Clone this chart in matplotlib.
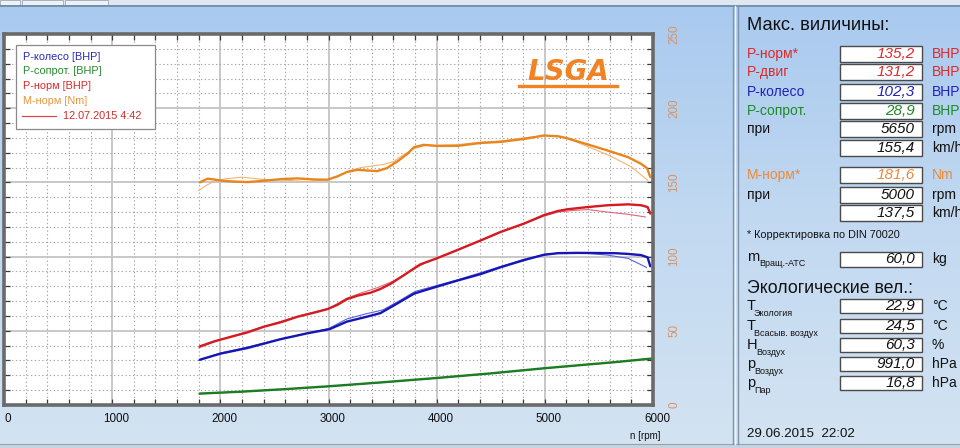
import numpy as np
import matplotlib
matplotlib.use("Agg")
import matplotlib.pyplot as plt
from matplotlib.patches import Rectangle
from matplotlib.ticker import MultipleLocator
from matplotlib.colors import LinearSegmentedColormap
import matplotlib.transforms as mtransforms

plt.rcParams["font.family"] = ["Liberation Sans", "DejaVu Sans"]

W, H = 960, 448

# ── Data ──────────────────────────────────────────────────────────────────────
# M-norm [Nm], thick = current run, thin = compare run
RPM_M = [1810, 1880, 1940, 2000, 2090, 2250, 2400, 2560, 2710, 2860, 2990, 3080, 3170,
         3270, 3360, 3450, 3540, 3640, 3730, 3790, 3880, 4000, 4190, 4410, 4590, 4810,
         4990, 5120, 5210, 5400, 5580, 5770, 5890, 5945, 5975]
M_NORM = [150.0, 152.5, 152.0, 151.3, 150.7, 150.2, 151.1, 152.2, 152.7, 152.0, 151.8,
          154.0, 157.0, 158.5, 158.0, 157.6, 159.6, 164.3, 169.3, 173.7, 175.3, 174.6,
          174.6, 176.6, 177.3, 179.3, 181.6, 181.1, 179.7, 175.5, 171.5, 167.0, 162.5,
          159.6, 153.6]
RPM_M_OLD = [1800, 1870, 1950, 2050, 2200, 2400, 2600, 2800, 3000, 3100, 3200, 3300, 3400,
             3500, 3600, 3700, 3800, 3900, 4000, 4200, 4400, 4600, 4800, 5000, 5150, 5300,
             5400, 5600, 5800, 5950]
M_NORM_OLD = [144.5, 148.0, 151.0, 152.5, 153.5, 152.0, 151.5, 150.5, 152.0, 154.5, 158.0,
              160.0, 161.0, 162.0, 164.0, 169.0, 173.0, 175.0, 175.0, 175.5, 177.0, 178.0,
              180.0, 181.5, 181.0, 177.0, 174.0, 168.0, 160.5, 151.5]

# P-norm [BHP]
RPM_P = [1810, 1940, 2090, 2250, 2400, 2560, 2710, 2860, 2990, 3080, 3170, 3270, 3390,
         3480, 3570, 3700, 3790, 3850, 4000, 4190, 4410, 4590, 4810, 4990, 5120, 5210,
         5400, 5580, 5770, 5890, 5950, 5975]
P_NORM = [39.5, 42.8, 45.8, 48.9, 52.7, 55.8, 59.4, 62.1, 64.6, 67.4, 71.3, 73.7, 75.7,
          78.2, 81.5, 87.6, 92.0, 94.8, 98.8, 104.4, 111.0, 116.6, 122.3, 127.9, 130.7,
          131.9, 133.4, 134.6, 135.2, 134.6, 133.4, 129.0]
RPM_P_OLD = [1800, 2000, 2250, 2500, 2750, 3000, 3170, 3300, 3450, 3600, 3750, 3900, 4100,
             4400, 4600, 4800, 5000, 5120, 5250, 5400, 5580, 5770, 5930]
P_NORM_OLD = [38.5, 44.0, 49.5, 55.0, 60.5, 65.0, 72.0, 75.5, 79.0, 83.5, 90.0, 96.0, 101.5,
              110.5, 116.5, 122.0, 127.5, 130.0, 131.0, 131.7, 130.0, 128.5, 126.7]

# P-wheel [BHP]
RPM_W = [1810, 2000, 2250, 2560, 2810, 3010, 3170, 3360, 3480, 3640, 3790, 3850, 4000,
         4190, 4410, 4590, 4810, 4990, 5120, 5300, 5500, 5650, 5770, 5890, 5950, 5975]
P_WHEEL = [30.5, 34.6, 38.4, 44.4, 48.4, 51.1, 56.2, 59.6, 61.9, 68.6, 75.0, 76.4, 79.7,
           83.8, 88.3, 92.8, 97.7, 101.2, 102.3, 102.5, 102.4, 102.3, 101.8, 101.0, 99.5, 93.5]
RPM_W_OLD = [1800, 2000, 2250, 2500, 2750, 3000, 3170, 3350, 3500, 3650, 3800, 4000, 4200,
             4400, 4600, 4800, 5000, 5150, 5350, 5580, 5770, 5940]
P_WHEEL_OLD = [30.0, 35.0, 39.0, 43.5, 47.5, 51.5, 58.0, 61.5, 64.0, 70.0, 76.5, 80.5, 84.5,
               89.0, 93.5, 98.0, 101.5, 102.5, 102.5, 101.0, 98.8, 92.7]

# P-drag [BHP]
RPM_D = [1810, 2200, 2600, 3000, 3500, 4000, 4500, 5000, 5650, 5990]
P_DRAG = [7.7, 9.0, 10.7, 12.6, 15.3, 18.2, 21.3, 24.8, 28.9, 31.3]
RPM_D_OLD = [1800, 2200, 2600, 3000, 3500, 4000, 4500, 5000, 5650, 5950]
P_DRAG_OLD = [7.5, 8.9, 10.6, 12.5, 15.2, 18.1, 21.2, 24.7, 28.8, 31.0]

X_TICKS = [0, 1000, 2000, 3000, 4000, 5000, 6000]
Y_TICKS = [0, 50, 100, 150, 200, 250]

# right panel: max values
MAX_LABELS = ["P-норм*", "P-двиг", "P-колесо", "P-сопрот.", "при", "", "M-норм*", "при", ""]
MAX_VALUES = ["135,2", "131,2", "102,3", "28,9", "5650", "155,4", "181,6", "5000", "137,5"]
MAX_UNITS = ["BHP", "BHP", "BHP", "BHP", "rpm", "km/h", "Nm", "rpm", "km/h"]
MAX_KIND = ["red", "red", "blue", "green", "black", "black", "orange", "black", "black"]

ENV_MAIN = ["T", "T", "H", "p", "p"]
ENV_SUB = ["Экология", "Всасыв. воздух", "Воздух", "Воздух", "Пар"]
ENV_VALUES = ["22,9", "24,5", "60,3", "991,0", "16,8"]
ENV_UNITS = ["°C", "°C", "%", "hPa", "hPa"]

# ── Style ─────────────────────────────────────────────────────────────────────
COL = {
    "blue": "#1616b4", "red": "#d41a22", "green": "#1c7c22", "orange": "#e8861e",
    "black": "#111111",
}
COL_THIN = {
    "blue": "#5563dc", "red": "#e2687c", "green": "#4da455", "orange": "#f2b574",
}
LEG_COL = {
    "blue": "#2a2ab4", "red": "#d42a2a", "green": "#238a2c", "orange": "#e8953a",
}
PANEL_COL = {
    "blue": "#2222b8", "red": "#dc2a2a", "green": "#1f8a26", "orange": "#ec8a3a",
    "black": "#111111",
}


def fx(x):
    return x / W


def fy(y):
    return 1 - y / H


def box(fig, x, y, w, h):
    fig.add_artist(Rectangle((fx(x), fy(y + h)), w / W, h / H, transform=fig.transFigure,
                             facecolor="white", edgecolor="#4a4a4a", linewidth=1.0, zorder=4))


def draw_background(fig):
    bg = fig.add_axes([0, 0, 1, 1], zorder=-10)
    grad = np.linspace(0, 1, 256).reshape(-1, 1)
    cmap = LinearSegmentedColormap.from_list("bg", ["#a8c9ef", "#c2d9f1", "#d3e3f2"])
    bg.imshow(grad, aspect="auto", cmap=cmap, extent=[0, 1, 0, 1], origin="upper")
    bg.set_xlim(0, 1)
    bg.set_ylim(0, 1)
    bg.axis("off")
    # top strip + tabs
    bg.add_patch(Rectangle((0, fy(5)), 1, 5 / H, facecolor="#dfe7f0", edgecolor="none"))
    for x0, x1 in [(0, 20), (22, 63), (65, 108)]:
        bg.add_patch(Rectangle((fx(x0), fy(5)), (x1 - x0) / W, 5 / H,
                               facecolor="#eef2f6", edgecolor="#9aa8b8", linewidth=0.6))
    bg.axhline(fy(6), color="#6f86a2", linewidth=1.2)
    # bottom strip
    bg.add_patch(Rectangle((0, 0), 1, 4 / H, facecolor="#c9d3dd", edgecolor="none"))
    bg.axhline(fy(444), color="#93a3b5", linewidth=0.8)
    # panel separator
    bg.axvline(fx(733), ymin=fy(444), ymax=fy(6), color="#8193a8", linewidth=1.0)
    bg.axvline(fx(735), ymin=fy(444), ymax=fy(6), color="#eef4fa", linewidth=1.0)
    bg.axvline(fx(738), ymin=fy(444), ymax=fy(6), color="#8193a8", linewidth=1.0)


def draw_chart(fig):
    ax = fig.add_axes([fx(4), fy(405), 649 / W, 371 / H])
    ax.set_facecolor("white")
    ax.set_xlim(0, 6000)
    ax.set_ylim(0, 250)

    ax.xaxis.set_major_locator(MultipleLocator(1000))
    ax.xaxis.set_minor_locator(MultipleLocator(200))
    ax.yaxis.set_major_locator(MultipleLocator(50))
    ax.yaxis.set_minor_locator(MultipleLocator(10))
    ax.set_xticks(X_TICKS)
    ax.set_xticklabels([str(t) for t in X_TICKS])
    ax.set_yticks(Y_TICKS)
    ax.set_yticklabels([str(t) for t in Y_TICKS])

    ax.grid(which="major", color="#c4c4c4", linewidth=1.3, linestyle="-")
    ax.grid(which="minor", color="#a6a6a6", linewidth=0.8, linestyle=(0, (1.2, 2.2)))
    ax.set_axisbelow(True)

    ax.tick_params(which="both", direction="in", top=True, bottom=True, left=True, right=True,
                   length=4, width=0.9, color="#3a3a3a")
    ax.tick_params(axis="x", labelsize=8.4, pad=6, labelcolor="#111111")
    ax.tick_params(axis="y", labelleft=False, labelright=True, labelrotation=90,
                   labelsize=8.4, pad=11, labelcolor="#d6956a")
    for lbl in ax.get_yticklabels():
        lbl.set_verticalalignment("center")
    shift = mtransforms.ScaledTranslation(4 / 100, 0, fig.dpi_scale_trans)
    for lbl in ax.get_xticklabels():
        lbl.set_transform(lbl.get_transform() + shift)

    for sp in ax.spines.values():
        sp.set_color("#6a6a6a")
        sp.set_linewidth(2.6)

    # compare run (thin), then current run (thick)
    ax.plot(RPM_D_OLD, P_DRAG_OLD, color=COL_THIN["green"], linewidth=0.8)
    ax.plot(RPM_W_OLD, P_WHEEL_OLD, color=COL_THIN["blue"], linewidth=0.8)
    ax.plot(RPM_P_OLD, P_NORM_OLD, color=COL_THIN["red"], linewidth=0.8)
    ax.plot(RPM_M_OLD, M_NORM_OLD, color=COL_THIN["orange"], linewidth=0.8)

    ax.plot(RPM_D, P_DRAG, color=COL["green"], linewidth=1.7, solid_capstyle="round")
    ax.plot(RPM_W, P_WHEEL, color=COL["blue"], linewidth=1.7, solid_capstyle="round")
    ax.plot(RPM_P, P_NORM, color=COL["red"], linewidth=1.7, solid_capstyle="round")
    ax.plot(RPM_M, M_NORM, color=COL["orange"], linewidth=1.7, solid_capstyle="round")

    # legend box
    fig.add_artist(Rectangle((fx(16), fy(129)), 139 / W, 84 / H, transform=fig.transFigure,
                             facecolor="white", edgecolor="#8a8a8a", linewidth=0.9, zorder=5))
    leg = [("P-колесо [BHP]", "blue"), ("P-сопрот. [BHP]", "green"),
           ("P-норм [BHP]", "red"), ("M-норм [Nm]", "orange")]
    for i, (txt, c) in enumerate(leg):
        fig.text(fx(23), fy(57 + i * 14.5), txt, color=LEG_COL[c], fontsize=7.8,
                 va="center", ha="left", zorder=6)
    fig.add_artist(plt.Line2D([fx(22), fx(56)], [fy(116), fy(116)], color="#d84a55",
                              linewidth=0.9, transform=fig.transFigure, zorder=6))
    fig.text(fx(63), fy(116), "12.07.2015 4:42", color=LEG_COL["red"], fontsize=7.8,
             va="center", ha="left", zorder=6)

    # logo
    fig.text(fx(568), fy(72), "LSGA", color="#f08424", fontsize=20, fontweight="bold",
             fontstyle="italic", family=["DejaVu Sans"], ha="center", va="center", zorder=6)
    fig.add_artist(plt.Line2D([fx(519), fx(617)], [fy(86), fy(86)], color="#f08424",
                              linewidth=2.4, transform=fig.transFigure, zorder=6))

    fig.text(fx(645), fy(436), "n [rpm]", fontsize=7, ha="center", va="center",
             color="#111111")


def draw_panel(fig):
    fig.text(fx(747), fy(25), "Макс. виличины:", fontsize=13.2, va="center", ha="left",
             color="#111111")
    rows_y = [54, 72, 92, 111, 129, 148, 175, 195, 213]
    for y, lab, val, unit, kind in zip(rows_y, MAX_LABELS, MAX_VALUES, MAX_UNITS, MAX_KIND):
        c = PANEL_COL[kind]
        if lab:
            fig.text(fx(747), fy(y), lab, fontsize=10, color=c, va="center", ha="left")
        box(fig, 840, y - 8, 82, 16)
        fig.text(fx(915), fy(y), val, fontsize=11, color=c, va="center", ha="right",
                 fontstyle="italic", zorder=6)
        fig.text(fx(932), fy(y), unit, fontsize=10, color=c, va="center", ha="left")

    fig.text(fx(747), fy(235), "* Корректировка по DIN 70020", fontsize=7.8, va="center",
             ha="left", color="#111111")
    fig.text(fx(747), fy(257), "m", fontsize=10.5, va="center", ha="left", color="#111111")
    fig.text(fx(759), fy(263), "Вращ.-АТС", fontsize=6.5, va="center", ha="left",
             color="#111111")
    box(fig, 840, 252, 82, 15)
    fig.text(fx(915), fy(259), "60,0", fontsize=11, va="center", ha="right",
             fontstyle="italic", color="#111111", zorder=6)
    fig.text(fx(932), fy(259), "kg", fontsize=10, va="center", ha="left", color="#111111")

    fig.text(fx(747), fy(288), "Экологические вел.:", fontsize=12.8, va="center",
             ha="left", color="#111111")
    env_y = [306, 326, 345, 364, 383]
    sub_x = [754, 754, 756, 754, 754]
    for y, sx, m, s, val, unit in zip(env_y, sub_x, ENV_MAIN, ENV_SUB, ENV_VALUES, ENV_UNITS):
        fig.text(fx(747), fy(y), m, fontsize=10.5, va="center", ha="left", color="#111111")
        fig.text(fx(sx), fy(y + 7), s, fontsize=6.5, va="center", ha="left",
                 color="#111111")
        box(fig, 840, y - 7, 82, 14)
        fig.text(fx(915), fy(y), val, fontsize=11, va="center", ha="right",
                 fontstyle="italic", color="#111111", zorder=6)
        fig.text(fx(932), fy(y), unit, fontsize=10, va="center", ha="left",
                 color="#111111")

    fig.text(fx(747), fy(434), "29.06.2015  22:02", fontsize=9.6, va="center", ha="left",
             color="#111111")


def main():
    fig = plt.figure(figsize=(W / 100, H / 100), dpi=100)
    draw_background(fig)
    draw_chart(fig)
    draw_panel(fig)
    fig.savefig("out.png", dpi=100)
    plt.close(fig)


if __name__ == "__main__":
    main()
